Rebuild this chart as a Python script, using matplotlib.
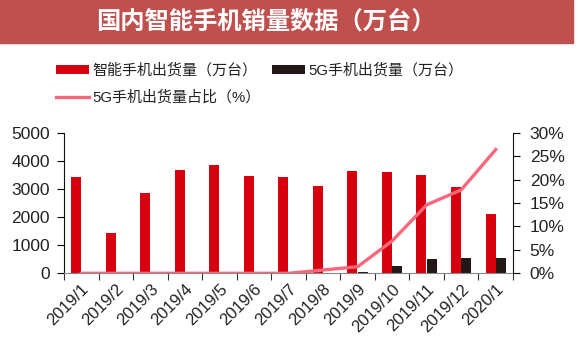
import matplotlib
matplotlib.use('Agg')
import matplotlib.pyplot as plt
from matplotlib.patches import Rectangle
from matplotlib.ticker import FuncFormatter
import numpy as np

plt.rcParams['font.family'] = ['Liberation Sans', 'Noto Sans CJK SC', 'DejaVu Sans']

months = ['2019/1', '2019/2', '2019/3', '2019/4', '2019/5', '2019/6', '2019/7',
          '2019/8', '2019/9', '2019/10', '2019/11', '2019/12', '2020/1']
smart = [3410, 1445, 2845, 3660, 3850, 3450, 3440, 3095, 3650, 3615, 3510, 3060, 2100]
g5 = [0, 0, 0, 0, 0, 0, 0, 21, 50, 249, 507, 543, 546]
g5_share = [0, 0, 0, 0, 0, 0, 0, 0.7, 1.4, 6.9, 14.6, 17.8, 26.4]

RED = '#D7000F'
BLACK = '#231815'
PINK = '#F8687A'
BANNER = '#C0504D'
TXT = '#222222'

fig = plt.figure(figsize=(5.78, 3.51), dpi=100)

# title banner
fig.patches.append(Rectangle((0, 1 - 43 / 351), 573 / 578, 43 / 351,
                             transform=fig.transFigure, color=BANNER, zorder=0))
fig.text(96 / 578, 1 - 22 / 351, '国内智能手机销量数据（万台）', color='white',
         fontsize=17.5, fontweight='bold', ha='left', va='center',
         family=['Noto Sans CJK SC'])

ax = fig.add_axes([64 / 578, 1 - 273.3 / 351, 449 / 578, 140.6 / 351])
x = np.arange(len(months))
b1 = ax.bar(x - 0.15, smart, width=0.29, color=RED, zorder=2)
b2 = ax.bar(x + 0.15, g5, width=0.29, color=BLACK, zorder=2)
ax.set_xlim(-0.5, len(months) - 0.5)
ax.set_ylim(0, 5000)
ax.set_yticks(range(0, 5001, 1000))

ax.set_xticks(x)
ax.set_xticklabels(months, rotation=45, ha='right', rotation_mode='anchor',
                   fontsize=12, color=TXT)
ax.tick_params(axis='x', which='major', length=0, pad=6)
ax.set_xticks(np.arange(-0.5, len(months), 1), minor=True)
ax.tick_params(axis='x', which='minor', length=5, width=0.8, color='#333333')
ax.tick_params(axis='y', length=5, width=0.8, labelsize=12.5, labelcolor=TXT, pad=5)

for s in ['top', 'right']:
    ax.spines[s].set_visible(False)
ax.spines['left'].set_color('#111111')
ax.spines['bottom'].set_color('#888888')

ax2 = ax.twinx()
ln, = ax2.plot(x, g5_share, color=PINK, lw=2.4, zorder=3)
ax2.set_ylim(0, 30)
ax2.set_yticks(range(0, 31, 5))
ax2.yaxis.set_major_formatter(FuncFormatter(lambda v, p: f'{int(v)}%'))
ax2.tick_params(axis='y', length=5, width=0.8, labelsize=12.5, labelcolor=TXT, pad=7)
for s in ['top', 'left', 'bottom']:
    ax2.spines[s].set_visible(False)
ax2.spines['right'].set_color('#111111')

leg = fig.legend([b1, ln, b2],
                 ['智能手机出货量（万台）', '5G手机出货量占比（%）', '5G手机出货量（万台）'],
                 ncol=2, loc='upper left', bbox_to_anchor=(56 / 578, 1 - 63 / 351),
                 frameon=False, fontsize=10.8, handlelength=2.2, handleheight=0.55,
                 handletextpad=0.2, columnspacing=0.8, labelspacing=0.85,
                 borderaxespad=0, borderpad=0)
for t in leg.get_texts():
    t.set_color(TXT)

fig.savefig('out.png', dpi=100)
